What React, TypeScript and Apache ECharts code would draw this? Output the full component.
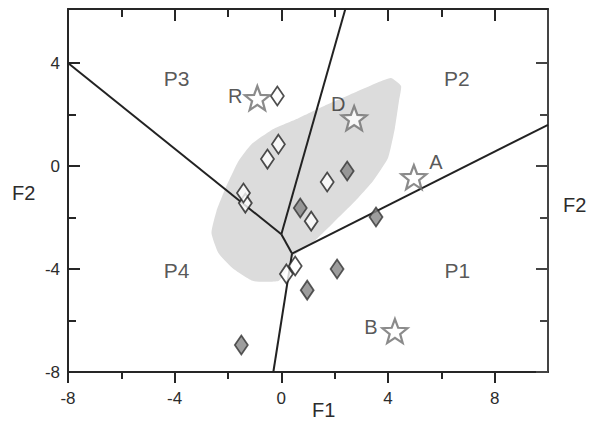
import React, { useEffect, useRef } from 'react';
import * as echarts from 'echarts';

// ---- data ----
const X_MIN = -8;
const X_MAX = 10;
const Y_MIN = -8;
const Y_MAX = 6.1;

const xMajorTicks = [-8, -4, 0, 4, 8];
const xMinorTicks = [-6, -2, 2, 6];
const yMajorTicks = [-8, -4, 0, 4];
const yMinorTicks = [-6, -2, 2];

// shaded cluster outline (F1, F2)
const blobOutline = [
  [4.11, 3.42], [4.49, 3.11], [4.41, 2.52], [4.26, 1.48], [4.0, 0.31],
  [3.44, -0.58], [2.77, -1.36], [1.94, -2.21], [1.12, -3.03], [0.45, -3.5],
  [0.19, -4.08], [-0.11, -4.47], [-1.05, -4.47], [-1.79, -4.0], [-2.36, -3.38],
  [-2.62, -2.6], [-2.43, -1.75], [-2.06, -0.78], [-1.61, 0.19], [-1.12, 0.85],
  [-0.3, 1.44], [0.64, 1.86], [1.76, 2.41], [2.69, 2.83], [3.55, 3.22],
];

// partition boundaries
const boundarySegments = [
  [[-8, 4], [0, -2.65]],
  [[0, -2.65], [2.4, 6.1]],
  [[0, -2.65], [0.4, -3.4]],
  [[0.4, -3.4], [10, 1.6]],
  [[0.4, -3.4], [-0.3, -8]],
];

const openDiamonds = [
  [-0.15, 2.72], [-0.11, 0.85], [-0.52, 0.27], [-1.35, -1.44], [-1.42, -1.05],
  [1.72, -0.62], [1.12, -2.14], [0.19, -4.19], [0.52, -3.88],
];

const filledDiamonds = [
  [2.47, -0.19], [0.71, -1.63], [3.55, -1.98], [2.09, -4.0], [0.97, -4.82], [-1.5, -6.95],
];

const starNames = ['R', 'D', 'A', 'B'];
const starPoints = [[-0.9, 2.64], [2.73, 1.86], [4.97, -0.43], [4.26, -6.41]];

const regionNames = ['P1', 'P2', 'P3', 'P4'];
const regionLabelPoints = [[6.6, -4.04], [6.58, 3.4], [-3.93, 3.4], [-3.93, -4.04]];

// ---- styles ----
const FONT = '"Liberation Sans", Arial, Helvetica, sans-serif';
const TEXT = '#2c2c2c';
const LINE = '#262626';
const STAR_PATH =
  'path://M50,0 L62.34,33.01 L97.55,34.55 L69.97,56.49 L79.39,90.45 L50,71 L20.61,90.45 L30.03,56.49 L2.45,34.55 L37.66,33.01 Z';
const starLabelOffsets = [[-22, -2], [-16, -14], [22, -15], [-24, -4]];

function axis(dim: 'x' | 'y', position: string, ticks: number[], len: number, inside: boolean, showLine: boolean, labels: number[] | null, lineColor = LINE) {
  return {
    type: 'value',
    position,
    min: dim === 'x' ? X_MIN : Y_MIN,
    max: dim === 'x' ? X_MAX : Y_MAX,
    axisLine: { show: showLine, onZero: false, lineStyle: { color: lineColor, width: 2 } },
    axisTick: { show: true, inside, length: len, customValues: ticks, lineStyle: { color: lineColor, width: 2 } },
    axisLabel: labels
      ? { show: true, customValues: labels, margin: dim === 'x' ? 18 : 8, fontSize: 17, color: TEXT, fontFamily: FONT }
      : { show: false },
    splitLine: { show: false },
    minorTick: { show: false },
  };
}

export default function App() {
  const ref = useRef<HTMLDivElement>(null);
  useEffect(() => {
    if (!ref.current) return;
    const chart = echarts.init(ref.current, null, { renderer: 'svg' });
    const series: any[] = [];
    series.push({
      type: 'custom',
      silent: true,
      z: 1,
      data: [[0, 0]],
      renderItem: (_p: any, api: any) => ({
        type: 'polygon',
        shape: { points: blobOutline.map((p) => api.coord(p)), smooth: 0.15 },
        style: { fill: '#dcdcdc' },
      }),
    });
    boundarySegments.forEach((seg) => {
      series.push({
        type: 'line',
        data: seg,
        symbol: 'none',
        silent: true,
        z: 2,
        lineStyle: { color: '#222', width: 2 },
      });
    });
    series.push({
      type: 'scatter',
      data: openDiamonds,
      symbol: 'diamond',
      symbolSize: [13, 19],
      z: 3,
      itemStyle: { color: '#ffffff', borderColor: '#222', borderWidth: 1.8 },
    });
    series.push({
      type: 'scatter',
      data: filledDiamonds,
      symbol: 'diamond',
      symbolSize: [13, 19],
      z: 3,
      itemStyle: { color: '#858585', borderColor: '#333', borderWidth: 1.8 },
    });
    series.push({
      type: 'scatter',
      data: starPoints.map((p, i) => ({
        name: starNames[i],
        value: p,
        label: { offset: starLabelOffsets[i] },
      })),
      symbol: STAR_PATH,
      symbolSize: [25, 24],
      z: 4,
      itemStyle: { color: '#ffffff', borderColor: '#6e6e6e', borderWidth: 2.2 },
      label: {
        show: true,
        position: 'inside',
        formatter: '{b}',
        fontSize: 20,
        color: TEXT,
        fontFamily: FONT,
      },
    });
    series.push({
      type: 'scatter',
      data: regionLabelPoints.map((p, i) => ({ name: regionNames[i], value: p })),
      symbol: 'circle',
      symbolSize: 1,
      z: 4,
      itemStyle: { color: 'rgba(0,0,0,0)' },
      label: {
        show: true,
        position: 'inside',
        formatter: '{b}',
        fontSize: 21,
        color: TEXT,
        fontFamily: FONT,
      },
    });

    chart.setOption({
      animation: false,
      backgroundColor: '#ffffff',
      grid: { left: 68, right: 46, top: 9, bottom: 53, containLabel: false },
      xAxis: [
        axis('x', 'bottom', xMajorTicks, 11, false, true, xMajorTicks),
        axis('x', 'bottom', xMinorTicks, 7, false, false, null),
        axis('x', 'top', xMajorTicks, 12, true, true, null),
        axis('x', 'top', xMinorTicks, 8, true, false, null),
      ],
      yAxis: [
        axis('y', 'left', yMajorTicks, 12, true, true, yMajorTicks),
        axis('y', 'left', yMinorTicks, 8, true, false, null),
        axis('y', 'right', yMajorTicks, 12, true, true, null, '#444'),
        axis('y', 'right', yMinorTicks, 8, true, false, null, '#444'),
      ],
      graphic: [
        { type: 'text', left: 312, top: 400, style: { text: 'F1', fontSize: 20, fill: TEXT, fontFamily: FONT } },
        { type: 'text', left: 12, top: 183, style: { text: 'F2', fontSize: 20, fill: TEXT, fontFamily: FONT } },
        { type: 'text', left: 563, top: 195, style: { text: 'F2', fontSize: 20, fill: TEXT, fontFamily: FONT } },
      ],
      series,
    });
    return () => chart.dispose();
  }, []);
  return <div ref={ref} style={{ position: 'fixed', left: 0, top: 0, width: 594, height: 425 }} />;
}
